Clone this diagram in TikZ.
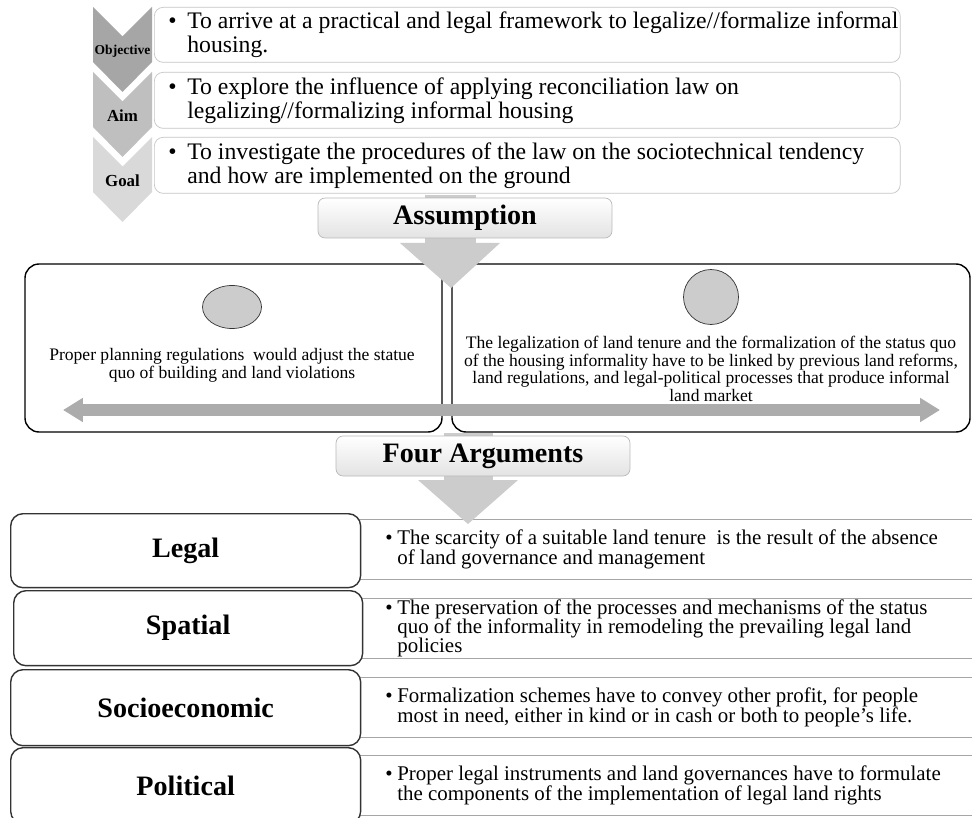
\documentclass[tikz,border=0pt]{standalone}
\usepackage{fontspec}
\setmainfont{Liberation Serif}
\usetikzlibrary{arrows.meta,shapes.geometric}

\tikzset{
  aimbox/.style={draw=gray!45, fill=white, rounded corners=5pt, anchor=north west,
    minimum width=14.92cm},
  aimtext/.style={anchor=west, inner sep=0pt, font=\fontsize{13.5}{13.6}\selectfont},
  headbox/.style={draw=gray!55, rounded corners=4pt, top color=white, bottom color=gray!22,
    minimum width=5.88cm, minimum height=0.8cm, font=\fontsize{16}{18}\selectfont\bfseries},
  bigbox/.style={draw=black, line width=0.8pt, rounded corners=8pt},
  dot/.style={draw=black!80, fill=gray!40},
  argbox/.style={draw=black!80, line width=0.8pt, fill=white, rounded corners=7pt, anchor=north west,
    minimum width=7cm, minimum height=1.5cm, font=\fontsize{16}{18}\selectfont\bfseries},
  argline/.style={draw=gray!70, anchor=north west, minimum height=1.2cm, minimum width=12.8cm},
  argtext/.style={anchor=west, inner sep=0pt, font=\fontsize{11.9}{10.9}\selectfont},
  blockarrow/.style={fill=gray!40},
}
% bullet followed by a block of lines
\newcommand{\itm}[2]{\makebox[#1][l]{\textbullet}\parbox[t]{18cm}{\lineskiplimit=-\maxdimen\raggedright #2}}

\begin{document}
\begin{tikzpicture}[x=0.02cm,y=-0.02cm]
\useasboundingbox (0,0) rectangle (972,817);
\fill[white] (0,0) rectangle (972,817);

% chevrons on the left
\foreach \y/\c/\t/\s in {7/70/Objective/7.7, 72/50/Aim/9.6, 137/30/Goal/9.6}{
  \fill[gray!\c] (93,\y) -- (122.5,\y+29.5) -- (152,\y) -- (152,\y+55) -- (122.5,\y+85) -- (93,\y+55) -- cycle;
  \node[font=\fontsize{\s}{\s}\selectfont\bfseries] (lab\t) at (122.5,\y+44) {\t};
}
\node[aimbox, minimum height=1.1cm] (objbox) at (154,7) {};
\node[aimbox, minimum height=1.12cm] (aimbox) at (154,72) {};
\node[aimbox, minimum height=1.12cm] (goalbox) at (154,137) {};
\node[aimtext] (objtxt) at ([xshift=0.28cm]objbox.west)
  {\itm{0.38cm}{To arrive at a practical and legal framework to legalize//formalize informal\\ housing.}};
\node[aimtext] (aimtxt) at ([xshift=0.28cm]aimbox.west)
  {\itm{0.38cm}{To explore the influence of applying reconciliation law on\\ legalizing//formalizing informal housing}};
\node[aimtext] (goaltxt) at ([xshift=0.28cm]goalbox.west)
  {\itm{0.38cm}{To investigate the procedures of the law on the sociotechnical tendency\\ and how are implemented on the ground}};

% assumption
\draw[bigbox] (25,264) rectangle (442,432);
\draw[bigbox] (452,264) rectangle (970,432);
\fill[blockarrow] (425,195) rectangle (476,243);
\fill[blockarrow] (400,243) -- (500,243) -- (451,288) -- cycle;
\node[headbox] (asm) at (465,218) {Assumption};

\node[dot, ellipse, minimum width=1.18cm, minimum height=0.86cm] (ldot) at (232,307) {};
\node[dot, circle, minimum size=1.1cm] (rdot) at (711,297) {};
\node[align=center, font=\fontsize{10}{10.2}\selectfont] (ltxt) at (232,365)
  {Proper planning regulations~ would adjust the statue\\ quo of building and land violations};
\node[align=center, font=\fontsize{10}{10.1}\selectfont] (rtxt) at (711,369)
  {The legalization of land tenure and the formalization of the status quo\\ of the housing informality have to be linked by previous land reforms,\\ land regulations, and legal-political processes that produce informal\\ land market};

\coordinate (dl) at (63,410);
\coordinate (dr) at (940,410);
\draw[gray!65, line width=0.24cm, {Triangle[length=0.4cm,width=0.46cm]}-{Triangle[length=0.4cm,width=0.46cm]}] (dl) -- (dr);

% four arguments
\node[argline] (legalln) at (356,519) {};
\node[argline] (spatialln) at (356,598) {};
\node[argline] (socioln) at (356,677) {};
\node[argline] (polln) at (356,755) {};
\node[argtext] (legaltxt) at ([xshift=0.58cm]legalln.west)
  {\itm{0.24cm}{The scarcity of a suitable land tenure~ is the result of the absence\\ of land governance and management}};
\node[argtext] (spatialtxt) at ([xshift=0.58cm]spatialln.west)
  {\itm{0.24cm}{The preservation of the processes and mechanisms of the status\\ quo of the informality in remodeling the prevailing legal land\\ policies}};
\node[argtext] (sociotxt) at ([xshift=0.58cm]socioln.west)
  {\itm{0.24cm}{Formalization schemes have to convey other profit, for people\\ most in need, either in kind or in cash or both to people’s life.}};
\node[argtext] (poltxt) at ([xshift=0.58cm]polln.west)
  {\itm{0.24cm}{Proper legal instruments and land governances have to formulate\\ the components of the implementation of legal land rights}};

\node[argbox, minimum height=1.48cm] (legal) at (10,513) {Legal};
\node[argbox, minimum width=6.98cm] (spatial) at (13,590) {Spatial};
\node[argbox, minimum height=1.52cm] (socio) at (10,669) {Socioeconomic};
\node[argbox, minimum height=1.52cm] (political) at (10,747) {Political};

\fill[blockarrow] (444,433) rectangle (493,480);
\fill[blockarrow] (418,480) -- (518,480) -- (468,524) -- cycle;
\node[headbox] (args) at (483,456) {Four Arguments};
\end{tikzpicture}
\end{document}
